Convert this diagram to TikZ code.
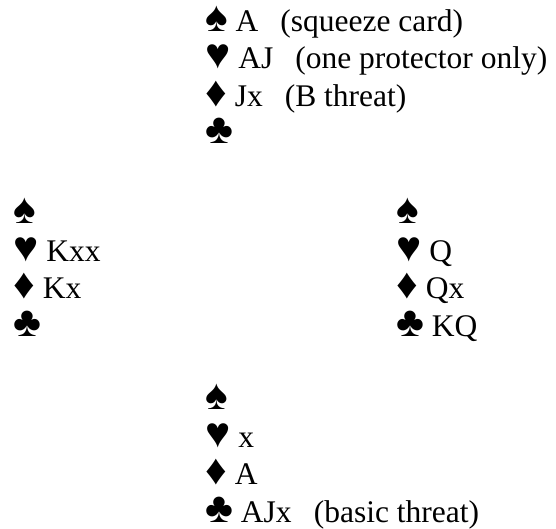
\documentclass[tikz,border=0pt]{standalone}
\usepackage{fontspec}
\usepackage{graphicx}
\setmainfont{Liberation Serif}
\usetikzlibrary{positioning}

\newcommand{\spd}{\scalebox{1.35}{♠}}
\newcommand{\hrt}{\scalebox{1.35}{♥}}
\newcommand{\dia}{\scalebox{1.35}{♦}}
\newcommand{\clb}{\scalebox{1.35}{♣}}
\newcommand{\gap}{\hspace{0.7em}}

\begin{document}
\begin{tikzpicture}[
        hand/.style={anchor=base west, inner sep=0pt, align=left, text=black,
            font=\fontsize{31.5pt}{37.5pt}\selectfont},
        x=1pt, y=1pt
    ]
    \useasboundingbox (0,0) rectangle (556,-529);

    % North
    \node[hand] (north) at (205,-144) {\spd\ A\gap(squeeze card)\\
        \hrt\ AJ\gap(one protector only)\\
        \dia\ Jx\gap(B threat)\\
        \clb};
    % West
    \node[hand] (west) at (13,-336) {\spd\\ \hrt\ Kxx\\ \dia\ Kx\\ \clb};
    % East
    \node[hand] (east) at (396,-336) {\spd\\ \hrt\ Q\\ \dia\ Qx\\ \clb\ KQ};
    % South
    \node[hand] (south) at (205,-522) {\spd\\
        \hrt\ x\\
        \dia\ A\\
        \clb\ AJx\gap(basic threat)};
\end{tikzpicture}
\end{document}
